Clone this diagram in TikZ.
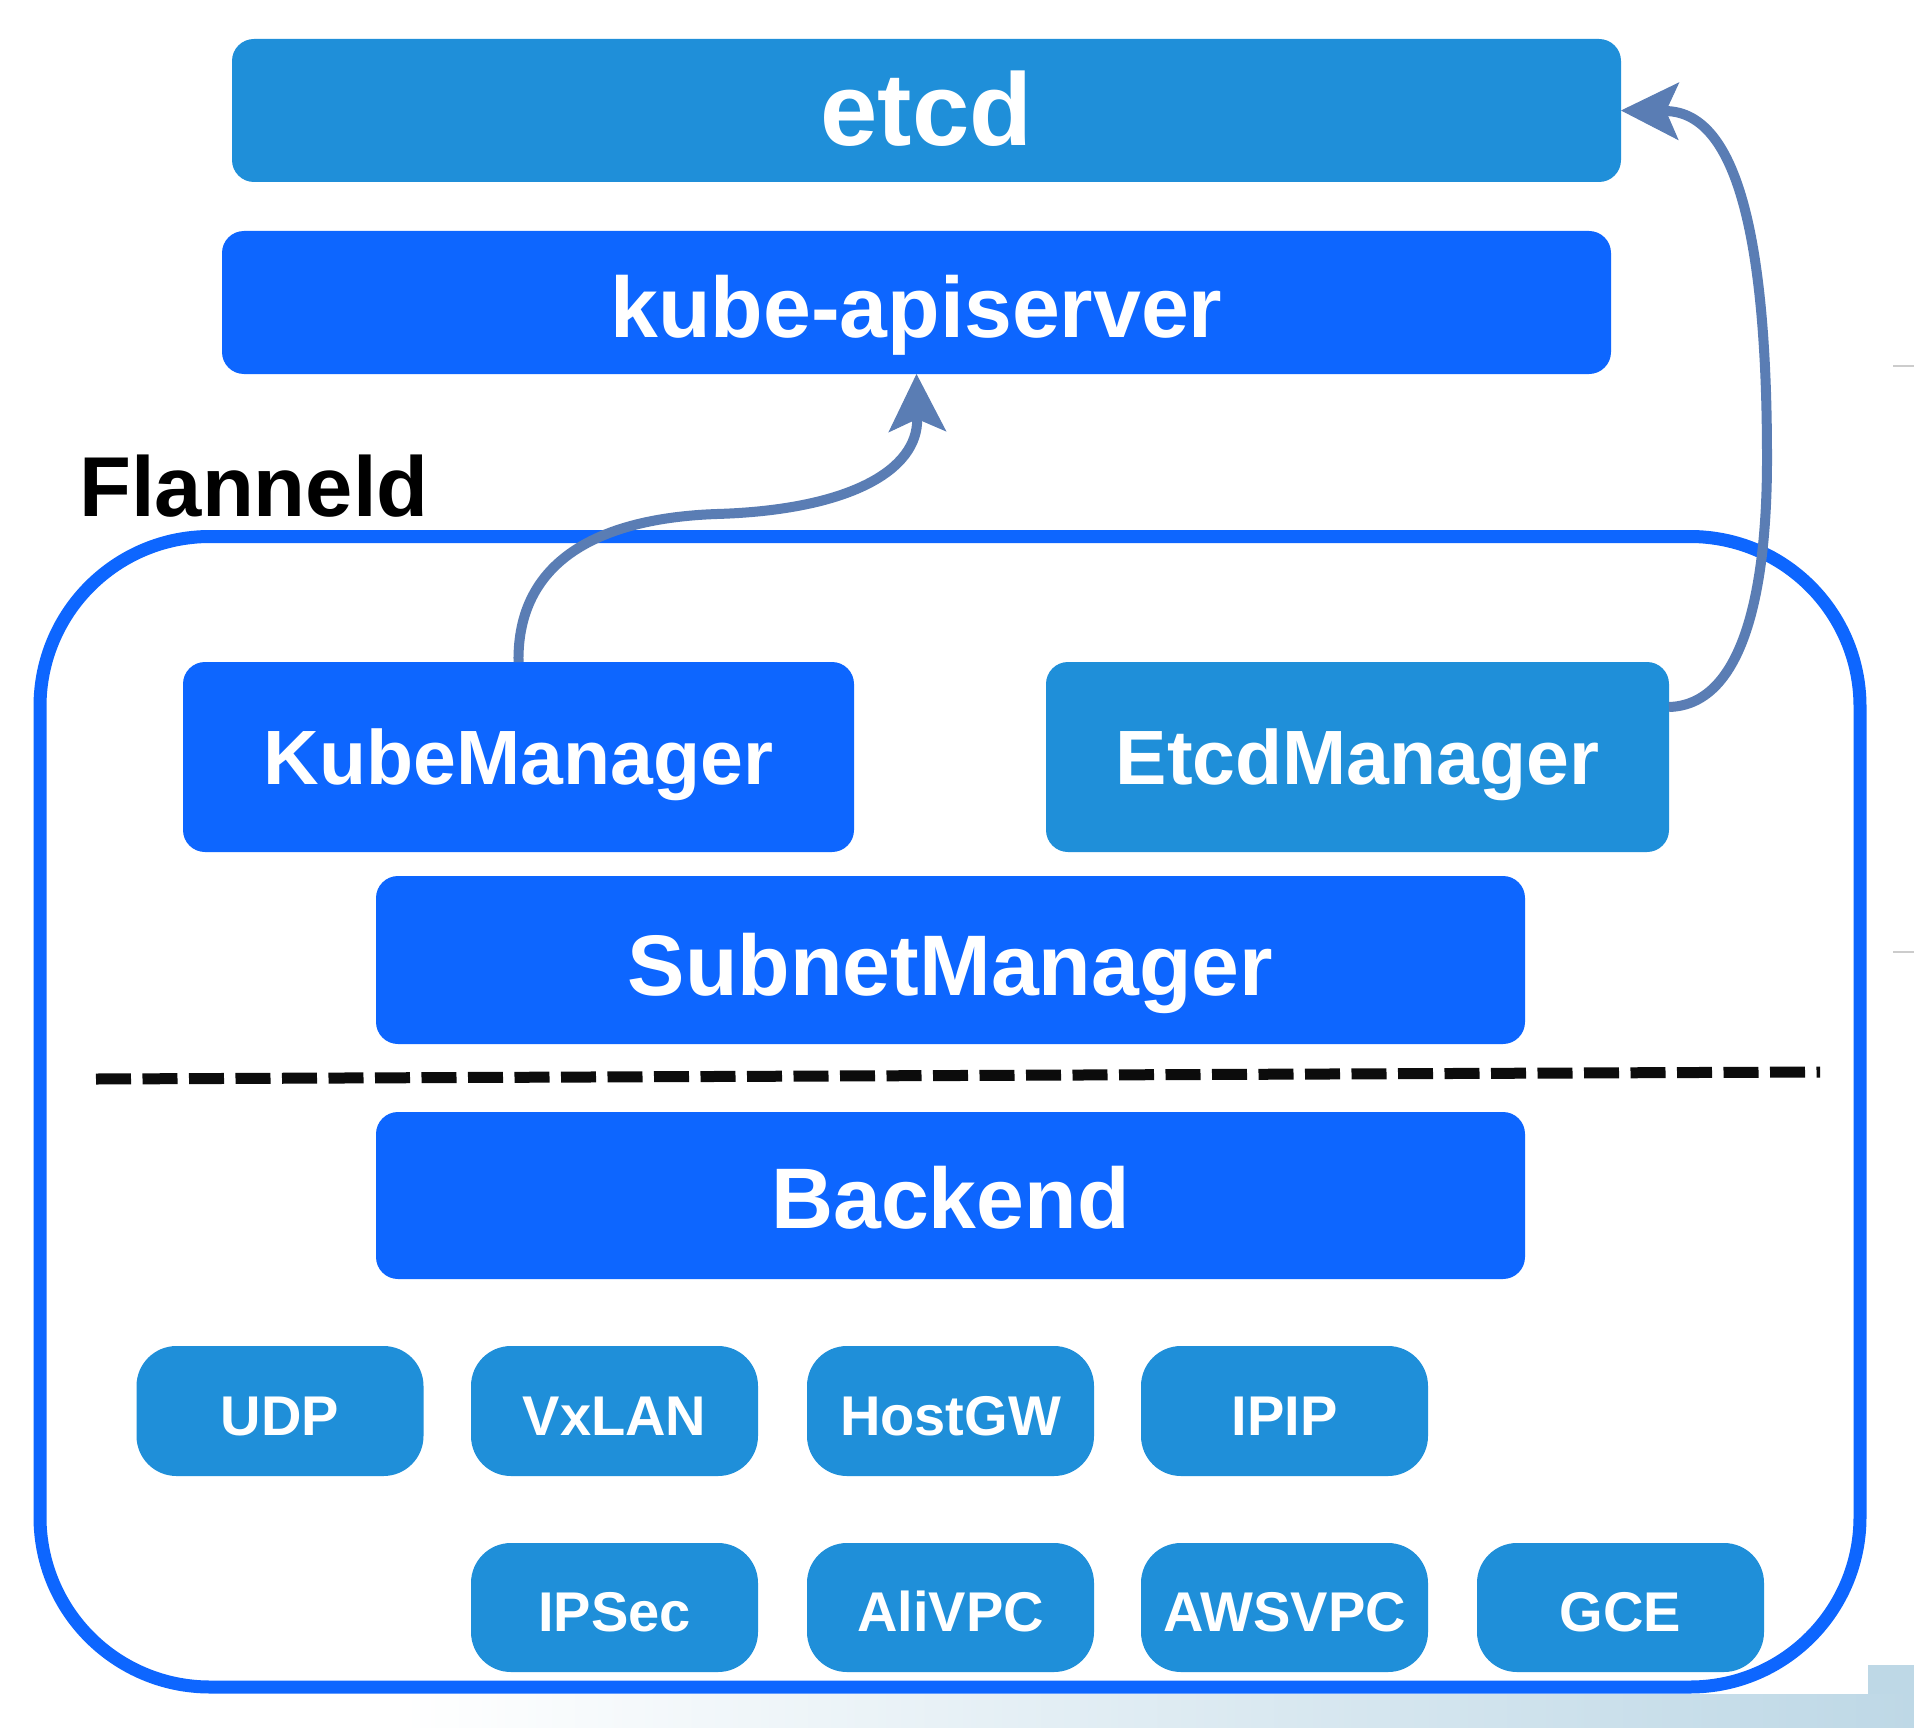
\documentclass[tikz,border=0pt]{standalone}
\usepackage{fontspec}
\setmainfont{Liberation Sans}
\usetikzlibrary{arrows.meta}
\definecolor{lightbox}{RGB}{31,143,217}
\definecolor{darkbox}{RGB}{13,102,255}
\definecolor{arrowc}{RGB}{90,125,180}
\definecolor{bandblue}{RGB}{190,216,230}
\definecolor{dashc}{RGB}{12,12,12}
\begin{document}
\begin{tikzpicture}[x=1pt,y=-1pt,
  box/.style={rounded corners=22pt, inner sep=0pt, outer sep=0pt, text=white},
  lbox/.style={box, fill=lightbox},
  dbox/.style={box, fill=darkbox},
  fetcd/.style={font=\bfseries\fontsize{103}{110}\selectfont, text height=71pt, text depth=0pt},
  fbig/.style={font=\bfseries\fontsize{86}{96}\selectfont, text height=70pt, text depth=0pt},
  fmid/.style={font=\bfseries\fontsize{77}{86}\selectfont, text height=54pt, text depth=0pt},
  fsmall/.style={font=\bfseries\fontsize{56}{64}\selectfont, text height=48pt, text depth=0pt},
  sbox/.style={lbox, fsmall, rounded corners=40pt, minimum width=287pt, minimum height=130pt},
  flow/.style={draw=arrowc, line width=10pt,
    -{Stealth[length=58pt, width=58pt, inset=13pt, line width=1pt]}},
  dashline/.style={draw=dashc, line width=11pt, dash pattern=on 35pt off 11.5pt},
  outerline/.style={draw=darkbox, line width=13pt, rounded corners=170pt, inner sep=0pt, outer sep=0pt}
]
\useasboundingbox (0,0) rectangle (1914,1728);
\fill[white] (0,0) rectangle (1914,1728);
% screenshot background remnants
\shade[left color=white, right color=bandblue] (400,1694) rectangle (1914,1728);
\fill[bandblue] (1868,1665) rectangle (1914,1694);
\draw[black!20, line width=2pt] (1893,366) -- (1914,366);
\draw[black!20, line width=2pt] (1893,952) -- (1914,952);

% outer Flanneld container
\node[outerline, minimum width=1820pt, minimum height=1150.5pt] (outer) at (950,1111.75) {};
\node[font=\bfseries\fontsize{85}{95}\selectfont, anchor=base west, inner sep=0pt] (flab) at (79,516) {Flanneld};

\node[lbox, fetcd, minimum width=1389pt, minimum height=143pt] (etcd) at (926.5,110.5) {etcd};
\node[dbox, fbig, minimum width=1389pt, minimum height=143pt] (api) at (916.5,302.5) {kube-apiserver};

\node[dbox, fmid, minimum width=671pt, minimum height=190pt] (km) at (518.5,757) {KubeManager};
\node[lbox, fmid, minimum width=623pt, minimum height=190pt] (em) at (1357.5,757) {EtcdManager};
\node[dbox, fbig, minimum width=1149pt, minimum height=168pt] (sm) at (950.5,960) {SubnetManager};

\coordinate (dl) at (96,1079);
\coordinate (dr) at (1820,1072);
\draw[dashline] (dl) -- (dr);

\node[dbox, fbig, text height=65pt, minimum width=1149pt, minimum height=167pt] (be) at (950.5,1195.5) {Backend};

\node[sbox] (udp) at (280,1411) {UDP};
\node[sbox] (vxlan) at (614.5,1411) {VxLAN};
\node[sbox] (hostgw) at (950.5,1411) {HostGW};
\node[sbox] (ipip) at (1284.5,1411) {IPIP};

\node[sbox, minimum height=129pt] (ipsec) at (614.5,1607.5) {IPSec};
\node[sbox, minimum height=129pt] (alivpc) at (950.5,1607.5) {AliVPC};
\node[sbox, minimum height=129pt] (awsvpc) at (1284.5,1607.5) {AWSVPC};
\node[sbox, minimum height=129pt] (gce) at (1620.5,1607.5) {GCE};

% connectors
\draw[flow] (km.north) .. controls (517,560) and (600,518) .. (717,514)
  .. controls (850,510) and (918,470) .. (api.south);
\draw[flow] ([yshift=50pt]em.east) .. controls (1740,705) and (1767,600) .. (1767,459)
  .. controls (1767,250) and (1740,112) .. (etcd.east);
\end{tikzpicture}
\end{document}
